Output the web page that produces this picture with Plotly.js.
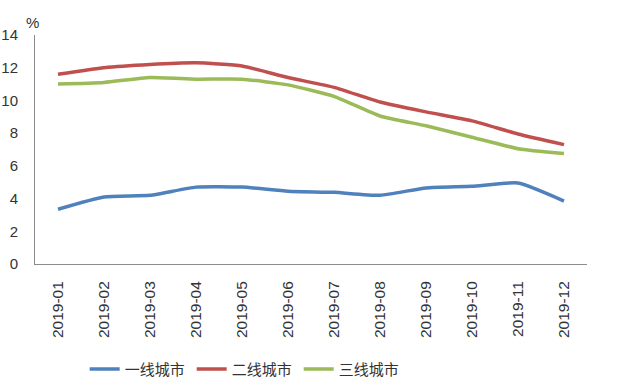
<!DOCTYPE html>
<html><head><meta charset="utf-8">
<script src="https://cdn.plot.ly/plotly-3.0.1.min.js"></script>
<style>html,body{margin:0;padding:0;background:#fff}#c{width:622px;height:390px}</style>
</head><body><div id="c"></div>
<script>
var months = ["2019-01","2019-02","2019-03","2019-04","2019-05","2019-06","2019-07","2019-08","2019-09","2019-10","2019-11","2019-12"];
var tier1 = [3.35,4.1,4.2,4.7,4.7,4.45,4.38,4.2,4.65,4.75,4.95,3.85];
var tier2 = [11.6,12.0,12.2,12.3,12.1,11.4,10.8,9.9,9.3,8.75,7.95,7.3];
var tier3 = [11.0,11.1,11.4,11.3,11.3,10.95,10.25,9.05,8.45,7.75,7.05,6.75];
var names = ["一线城市","二线城市","三线城市"];
var colors = ["#4F81BD","#C0504D","#9BBB59"];
var series = [tier1,tier2,tier3];
var traces = series.map(function(s,i){
  return {x:months,y:s,name:names[i],type:"scatter",mode:"lines",
    line:{color:colors[i],width:3.5,shape:"spline",smoothing:0.5}};
});
var layout = {
  width:622,height:390,
  margin:{l:35,r:35,t:35,b:126,autoexpand:false},
  paper_bgcolor:"#fff",plot_bgcolor:"#fff",
  font:{family:"Liberation Sans, Arial, sans-serif",color:"#333",size:15},
  xaxis:{type:"category",range:[-0.5,11.5],automargin:false,showgrid:false,zeroline:false,showline:true,linecolor:"#8c8c8c",linewidth:1,
    ticks:"",tickangle:-90,tickfont:{size:15.5,color:"#333"},ticklabelstandoff:10,fixedrange:true},
  yaxis:{range:[0,14],dtick:2,automargin:false,showgrid:false,zeroline:false,showline:true,linecolor:"#8c8c8c",linewidth:1,
    ticks:"",tickfont:{size:15,color:"#333"},ticklabelstandoff:13},
  showlegend:true,
  legend:{orientation:"h",x:0.09,xanchor:"left",y:-0.46,yanchor:"middle",
    font:{family:"Noto Sans CJK SC, sans-serif",size:15,color:"#333"},
    entrywidth:62,entrywidthmode:"pixels"},
  annotations:[{text:"%",xref:"paper",yref:"paper",x:-0.004,y:1.055,xanchor:"center",yanchor:"middle",
    showarrow:false,font:{size:15,color:"#333"}}]
};
Plotly.newPlot("c",traces,layout,{staticPlot:true});
</script></body></html>
